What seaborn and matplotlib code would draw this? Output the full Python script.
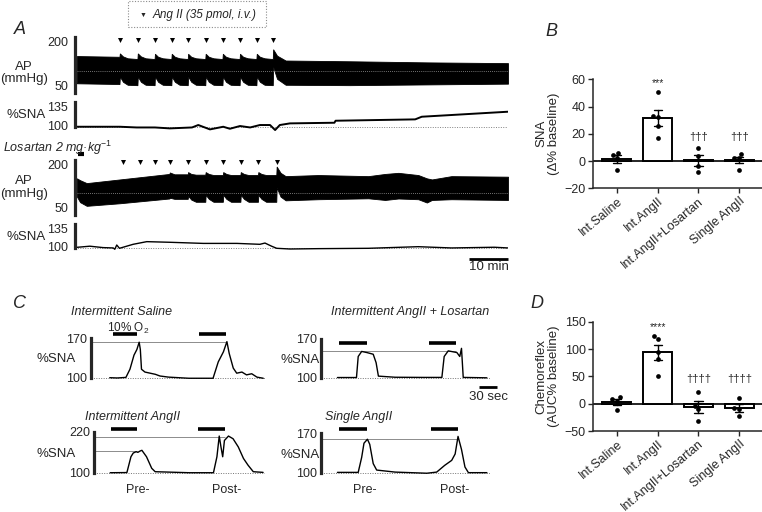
import pandas as pd
import matplotlib.pyplot as plt
from matplotlib.patches import Rectangle
import seaborn as sns

# ---------------- data ----------------
# panel A, top recording (intermittent Ang II); time in min
inj1_t = [11.0, 15.6, 20.0, 24.3, 28.5, 33.0, 37.4, 41.8, 46.1, 50.3]
ap1_t = [0,
         10.9, 11.0, 11.8, 13.0, 15.5, 15.6, 16.4, 17.6, 19.9, 20.0, 20.8, 22.0,
         24.2, 24.3, 25.1, 26.3, 28.4, 28.5, 29.3, 30.5, 32.9, 33.0, 33.8, 35.0,
         37.3, 37.4, 38.2, 39.4, 41.7, 41.8, 42.6, 43.8, 46.0, 46.1, 46.9, 48.1,
         50.2, 50.3, 51.3, 53.5, 70, 90, 110.5]
ap1_hi = [149,
          147, 156, 148, 143, 141, 156, 148, 143, 141, 155, 147, 143,
          141, 155, 147, 143, 141, 155, 147, 143, 141, 155, 147, 143,
          141, 155, 147, 143, 141, 155, 147, 143, 141, 155, 147, 143,
          141, 167, 150, 137, 135, 132, 130]
ap1_lo = [76,
          74, 94, 80, 72, 71, 94, 80, 72, 71, 94, 80, 72,
          71, 94, 80, 72, 71, 94, 80, 72, 71, 94, 80, 72,
          71, 94, 80, 72, 71, 94, 80, 72, 71, 94, 80, 72,
          71, 120, 88, 72, 71, 73, 75]
sna1_t = [0, 11, 15.3, 20, 23.8, 29.5, 31.1, 34.1, 37.5, 39.2, 41.8, 44.4, 46.9,
          49.5, 50.8, 52, 54.6, 66.0, 66.3, 86.7, 88.4, 96, 110.5]
sna1 = [100, 100, 99, 99, 97.7, 99, 102.4, 96.3, 100, 97.2, 101, 99, 102.4,
        102.4, 95.4, 102.4, 104.7, 105.6, 108.4, 110.3, 114, 116.4, 121]

# panel A, bottom recording (Losartan + intermittent Ang II)
losartan_t = [0.3, 1.8]
inj2_t = [11.7, 16.2, 20.0, 23.8, 28.5, 33.0, 37.5, 42.0, 46.5, 51.2]
ap2_t = [0, 0.8, 2.5, 11, 23.7, 23.8, 25, 28.4, 28.5, 29.3, 30.5, 32.9, 33.0, 33.8, 35.0,
         37.4, 37.5, 38.3, 39.5, 41.9, 42.0, 42.8, 44.0, 46.4, 46.5, 47.3, 48.5,
         51.1, 51.2, 52.2, 53.5, 61.9, 74.7, 79, 82.4, 87.5, 89.7, 91, 96, 110.5]
ap2_hi = [150, 145, 137, 147, 162, 166, 161, 161, 167, 162, 160, 160, 167, 162, 159,
          159, 167, 162, 159, 159, 167, 162, 159, 159, 167, 162, 159,
          159, 182, 165, 156, 159, 156, 162, 165, 159, 150, 147, 156, 154.5]
ap2_lo = [100, 85, 75, 82, 95, 97, 94, 94, 102, 92, 86, 86, 105, 94, 86,
          86, 105, 94, 86, 86, 105, 94, 86, 86, 105, 94, 86,
          86, 125, 100, 90, 93, 95.5, 91, 95, 93, 84, 91, 93, 91]
sna2_t = [0, 3.3, 6.7, 9.3, 9.7, 10.2, 10.9, 14.4, 17.9, 23.8, 32.4, 41, 46.9, 48.2,
          49.9, 51.2, 54.6, 61.9, 74.7, 87.5, 96, 107, 110.5]
sna2 = [101.4, 103, 101, 100.5, 98.6, 104.7, 100, 105.7, 109.5, 108.6, 107, 107, 105.7,
        107.5, 103, 100, 99, 99.5, 100, 102.3, 100.5, 101.5, 100.5]
ap_mid = 110

# panel C traces, time in s, %SNA
sal_t = [33, 46, 61, 68, 75, 80, 84, 86, 88, 94, 103, 112, 120, 135,
         170, 212, 221, 230, 236, 240, 247, 253, 262, 270, 279, 288, 299]
sal_v = [100, 99.5, 100.5, 115, 140, 150, 163, 150, 115, 110, 108, 106, 103, 101,
         99, 99, 128, 146, 164, 143, 117, 108, 110, 105, 107, 101, 99]
sal_o2 = [(38, 81), (188, 234)]
sal_peak = [163]

los_t = [29, 62, 65, 71, 80, 91, 96, 100, 129,
         178, 210, 214, 221, 236, 241, 244, 247, 288]
los_v = [100.5, 100.5, 138, 147, 145, 142, 127, 103, 101,
         100.7, 100.7, 138, 148, 145, 138, 152.5, 100.7, 100]
los_o2 = [(32, 80), (188, 234)]
los_peak = [148.5]

ang_t = [28, 57, 64, 68, 73, 76, 80, 83, 91, 100, 106, 126,
         165, 207, 213, 217, 220, 223, 226, 233, 241, 250, 259, 267, 276, 293]
ang_v = [100, 100.5, 147, 158, 162, 160, 164, 166, 147, 113, 103, 102,
         100, 100, 147, 208, 176, 147, 195, 208, 200, 176, 142, 122, 103, 101]
ang_o2 = [(30, 74), (181, 227)]
ang_peak = [165, 206]

sgl_t = [29, 65, 71, 75, 81, 85, 91, 97, 129,
         184, 201, 215, 227, 233, 238, 244, 250, 256, 288]
sgl_v = [100.5, 100.5, 127, 152, 159, 150, 116, 104.6, 101,
         99, 101, 113, 121.7, 133, 164, 141, 110, 100, 100]
sgl_o2 = [(32, 80), (192, 238)]
sgl_peak = [159]

# panels B and D
groups = ['Int.Saline', 'Int.AngII', 'Int.AngII+Losartan', 'Single AngII']
sna_saline = [6.1, 4.4, 2.0, -6.6]
sna_angii = [50.8, 33.0, 32.5, 25.6, 16.6]
sna_losartan = [9.3, 3.9, -3.7, -7.8]
sna_single = [2.0, 2.5, 5.1, -6.6]
chemo_saline = [8.0, 11.6, 4.9, -11.5]
chemo_angii = [124.6, 118.0, 95.2, 81.3, 50.7]
chemo_losartan = [21.4, -4.3, -10.4, -31.7]
chemo_single = [9.8, -8.5, -10.4, -22.0]

# ---------------- figure ----------------
sns.set_style('ticks')
plt.rcParams['font.family'] = ['Liberation Sans', 'DejaVu Sans']
plt.rcParams['mathtext.fontset'] = 'custom'
plt.rcParams['mathtext.rm'] = 'Liberation Sans'
plt.rcParams['mathtext.it'] = 'Liberation Sans:italic'

W, H = 762, 512
fig = plt.figure(figsize=(W / 100, H / 100), dpi=100)


def box(x0, y0, x1, y1):
    return fig.add_axes([x0 / W, 1 - y1 / H, (x1 - x0) / W, (y1 - y0) / H])


def ftext(x, y, s, **kw):
    kw.setdefault('ha', 'center')
    kw.setdefault('va', 'center')
    kw.setdefault('fontsize', 9.5)
    fig.text(x / W, 1 - y / H, s, **kw)


def trace_axes(x0, y0, x1, y1, xlim, ylim, bounds, pad, labels=True):
    ax = box(x0, y0, x1, y1)
    ax.set_xlim(xlim)
    ax.set_ylim(ylim)
    for s in ['top', 'right', 'bottom']:
        ax.spines[s].set_visible(False)
    ax.spines['left'].set_bounds(*bounds)
    ax.spines['left'].set_linewidth(2.3)
    ax.set_xticks([])
    ax.set_yticks(list(bounds))
    if not labels:
        ax.set_yticklabels([])
    ax.tick_params(axis='y', length=0, pad=pad, labelsize=9)
    ax.patch.set_alpha(0)
    return ax


def a_labels(ax, bounds, vas):
    # tick numbers of panel A sit inside the bar ends
    for v, va in zip(bounds, vas):
        ax.text(-0.016, v, str(v), transform=ax.get_yaxis_transform(),
                ha='right', va=va, fontsize=9)


tmin = -0.5
tmax = 110.5

# --- A top
ax = trace_axes(75, 37, 508, 93, (tmin, tmax), (50, 200), (50, 200), 4.5, labels=False)
a_labels(ax, (50, 200), ('bottom', 'top'))
ax.fill_between(ap1_t, ap1_lo, ap1_hi, color='k', lw=0.6)
ax.axhline(ap_mid, color='0.6', lw=0.6, ls=(0, (1, 1.5)))
ax.scatter(inj1_t, [193] * len(inj1_t), marker='v', s=13, c='k', lw=0, clip_on=False)

ax = trace_axes(75, 101.7, 508, 133.9, (tmin, tmax), (90, 135), (100, 135), 4.5, labels=False)
a_labels(ax, (100, 135), ('center', 'top'))
ax.axhline(100, color='0.5', lw=0.7, ls=(0, (1, 1.5)))
sns.lineplot(x=sna1_t, y=sna1, ax=ax, color='k', lw=1.4, sort=False, estimator=None)

# --- A bottom
ax = trace_axes(75, 160, 508, 215, (tmin, tmax), (50, 200), (50, 200), 4.5, labels=False)
a_labels(ax, (50, 200), ('bottom', 'top'))
ax.fill_between(ap2_t, ap2_lo, ap2_hi, color='k', lw=0.6)
ax.axhline(ap_mid, color='0.6', lw=0.6, ls=(0, (1, 1.5)))
ax.scatter(inj2_t, [194.5] * len(inj2_t), marker='v', s=13, c='k', lw=0, clip_on=False)
ax.plot(losartan_t, [217.5, 217.5], color='k', lw=3, solid_capstyle='butt', clip_on=False)

ax = trace_axes(75, 223.8, 508, 255.3, (tmin, tmax), (90, 135), (100, 135), 4.5, labels=False)
a_labels(ax, (100, 135), ('center', 'top'))
ax.axhline(100, color='0.5', lw=0.7, ls=(0, (1, 1.5)))
sns.lineplot(x=sna2_t, y=sna2, ax=ax, color='k', lw=1.0, sort=False, estimator=None)
ax.plot([tmax - 10, tmax], [84.3, 84.3], color='k', lw=2, solid_capstyle='butt', clip_on=False)
ax.text(tmax - 5, 73, '10 min', ha='center', va='center', fontsize=9.5, clip_on=False)

ftext(20, 29.5, 'A', fontsize=13, style='italic')
ftext(24, 73, 'AP\n(mmHg)', linespacing=1.1)
ftext(26, 115, '%SNA')
ftext(24, 187.5, 'AP\n(mmHg)', linespacing=1.1)
ftext(26, 237, '%SNA')
ftext(3, 148, 'Losartan 2 mg·kg$^{-1}$', ha='left', style='italic', fontsize=9)
fig.add_artist(Rectangle((128.3 / W, 1 - 27 / H), (266 - 128.3) / W, 26 / H,
                         transform=fig.transFigure, fill=False, ec='0.55', lw=0.8,
                         ls=(0, (1, 1.5))))
ftext(143.3, 15, '▼', fontsize=5)
ftext(153, 15, 'Ang II (35 pmol, i.v.)', ha='left', style='italic', fontsize=8.5)


# --- C
def c_panel(x0, y0, x1, y1, xmax, ylim, top, t, v, o2, o2y, peaks):
    ax = trace_axes(x0, y0, x1, y1, (0, xmax), ylim, (100, top), 2.5)
    ax.axhline(100, color='0.45', lw=0.7, ls=(0, (1, 1.5)))
    for i, p in enumerate(peaks):
        end = o2[-1][1] if i == len(peaks) - 1 else o2[0][1]
        ax.hlines(p, 0, end, color='0.55', lw=0.7)
    sns.lineplot(x=t, y=v, ax=ax, color='k', lw=1.0, sort=False, estimator=None)
    for a, b in o2:
        ax.plot([a, b], [o2y, o2y], color='k', lw=2.6, solid_capstyle='butt',
                transform=ax.get_xaxis_transform(), clip_on=False)
    return ax


c_panel(90.7, 329.8, 265, 382.2, 302, (92, 185), 170, sal_t, sal_v, sal_o2, 0.914, sal_peak)
ax = c_panel(320.7, 330.1, 490, 382.3, 293.4, (92, 185), 170, los_t, los_v, los_o2, 0.759, los_peak)
ax.plot([275, 305], [83, 83], color='k', lw=2, solid_capstyle='butt', clip_on=False)
ax.text(290, 65.8, '30 sec', ha='center', va='center', fontsize=9.5, clip_on=False)
c_panel(94, 427.9, 265, 476.8, 296.3, (88, 232), 220, ang_t, ang_v, ang_o2, 0.971, ang_peak)
c_panel(320.7, 426.2, 490, 477.2, 293.4, (92, 182), 170, sgl_t, sgl_v, sgl_o2, 0.939, sgl_peak)

ftext(19, 303, 'C', fontsize=13, style='italic')
ftext(122, 311.7, 'Intermittent Saline', style='italic', fontsize=9)
ftext(128, 328, '10% O$_{\\rm 2}$', fontsize=8.5)
ftext(410, 311.7, 'Intermittent AngII + Losartan', style='italic', fontsize=9)
ftext(133, 417, 'Intermittent AngII', style='italic', fontsize=9)
ftext(359, 417, 'Single AngII', style='italic', fontsize=9)
for x, y in [(56, 359), (56, 454), (300, 360), (300, 455)]:
    ftext(x, y, '%SNA')
for x, s in [(138, 'Pre-'), (227, 'Post-'), (365, 'Pre-'), (455, 'Post-')]:
    ftext(x, 490, s, fontsize=9)


# --- B and D
def bar_panel(y0, y1, data, ylim, yticks, ylabel, star, star_y, dag, dag_y):
    df = pd.DataFrame({'group': [g for g, v in zip(groups, data) for _ in v],
                       'value': [x for v in data for x in v]})
    ax = box(592.7, y0, 761.7, y1)
    sns.barplot(data=df, x='group', y='value', order=groups, errorbar='se', capsize=0.2,
                color='white', edgecolor='k', linewidth=1.4, width=0.72,
                err_kws={'linewidth': 1.0, 'color': 'k'}, ax=ax)
    sns.swarmplot(data=df, x='group', y='value', order=groups, color='k', size=3.4, ax=ax)
    ax.axhline(0, color='k', lw=1.2, zorder=0.5)
    ax.set_xlim(-0.59, 3.55)
    ax.set_ylim(ylim)
    ax.set_yticks(yticks)
    sns.despine(ax=ax)
    ax.spines['left'].set_linewidth(1.1)
    ax.spines['bottom'].set_linewidth(1.1)
    ax.tick_params(axis='both', length=3.5, width=1, labelsize=9, pad=1.5)
    ax.set_xticks(range(len(groups)))
    ax.set_xticklabels(groups, rotation=40, ha='right', rotation_mode='anchor')
    ax.set_xlabel('')
    ax.set_ylabel(ylabel, fontsize=9.5, labelpad=3, linespacing=1.1)
    ax.text(1, star_y, star, ha='center', va='center', fontsize=7.5)
    for i in (2, 3):
        ax.text(i, dag_y, dag, ha='center', va='center', fontsize=8)
    ax.patch.set_alpha(0)
    return ax


bar_panel(79.3, 188.3, [sna_saline, sna_angii, sna_losartan, sna_single], (-20, 60),
          [-20, 0, 20, 40, 60], 'SNA\n(Δ% baseline)', '***', 57.5, '†††', 17.8)
bar_panel(321.7, 431, [chemo_saline, chemo_angii, chemo_losartan, chemo_single], (-50, 150),
          [-50, 0, 50, 100, 150], 'Chemoreflex\n(AUC% baseline)', '****', 139.8, '††††', 44.7)
ftext(551.7, 31.7, 'B', fontsize=13, style='italic')
ftext(537, 303, 'D', fontsize=13, style='italic')

fig.savefig('out.png', dpi=100)
